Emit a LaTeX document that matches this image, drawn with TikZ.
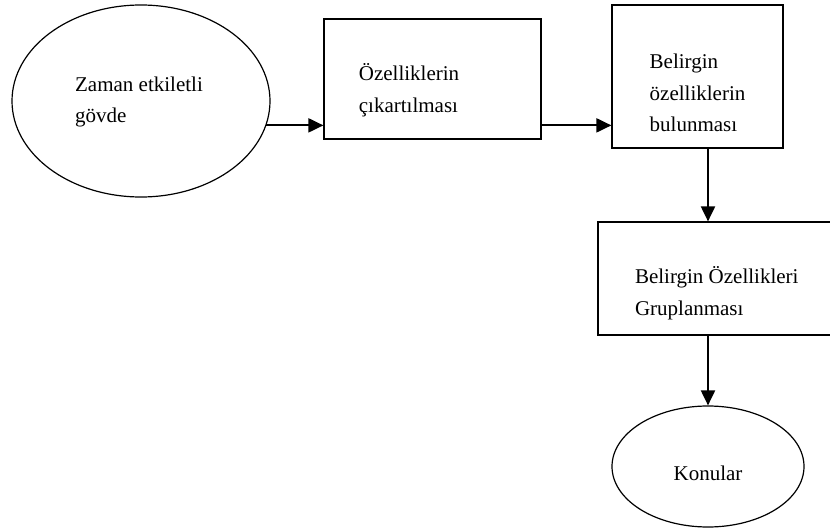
\documentclass[tikz,border=0pt]{standalone}
\usepackage{fontspec}
\setmainfont{Liberation Serif}
\usetikzlibrary{shapes.geometric,arrows.meta,positioning}

\begin{document}
\begin{tikzpicture}[
        x=1pt, y=-1pt,
        outline/.style={draw, line width=1.2pt, inner sep=0pt},
        oval/.style={outline, ellipse},
        box/.style={outline, rectangle},
        txt/.style={align=left, inner sep=0pt, font=\fontsize{21}{31.5}\selectfont},
        arrow/.style={-{Triangle[length=15pt,width=14pt]}, line width=2pt}
    ]
        \useasboundingbox (0,0) rectangle (830,532);

        \node[oval, minimum width=258pt, minimum height=192pt,
            label={[txt, xshift=-2pt, yshift=-1pt]center:Zaman etkiletli\\gövde}] (body) at (141,101) {};
        \node[box, minimum width=217pt, minimum height=120pt,
            label={[txt, xshift=-23.5pt, yshift=-11pt]center:Özelliklerin\\çıkartılması}] (feat) at (432.5,79) {};
        \node[box, minimum width=171pt, minimum height=143pt,
            label={[txt, yshift=-16.5pt]center:Belirgin\\özelliklerin\\bulunması}] (find) at (697.5,76.5) {};
        \node[box, minimum width=233.5pt, minimum height=113pt,
            label={[txt, xshift=2pt, yshift=-14.5pt]center:Belirgin Özellikleri\\Gruplanması}] (group) at (714.75,278.5) {};
        \node[oval, minimum width=192pt, minimum height=121pt,
            label={[txt, yshift=-6.5pt]center:Konular}] (topics) at (708,466.5) {};

        \draw[arrow] (body.-11) -- (body.-11 -| feat.west);
        \draw[arrow] (body.-11 -| feat.east) -- (body.-11 -| find.west);
        \draw[arrow] (find.south -| topics.north) -- (group.north -| topics.north);
        \draw[arrow] (group.south -| topics.north) -- (topics.north);
    \end{tikzpicture}
\end{document}
